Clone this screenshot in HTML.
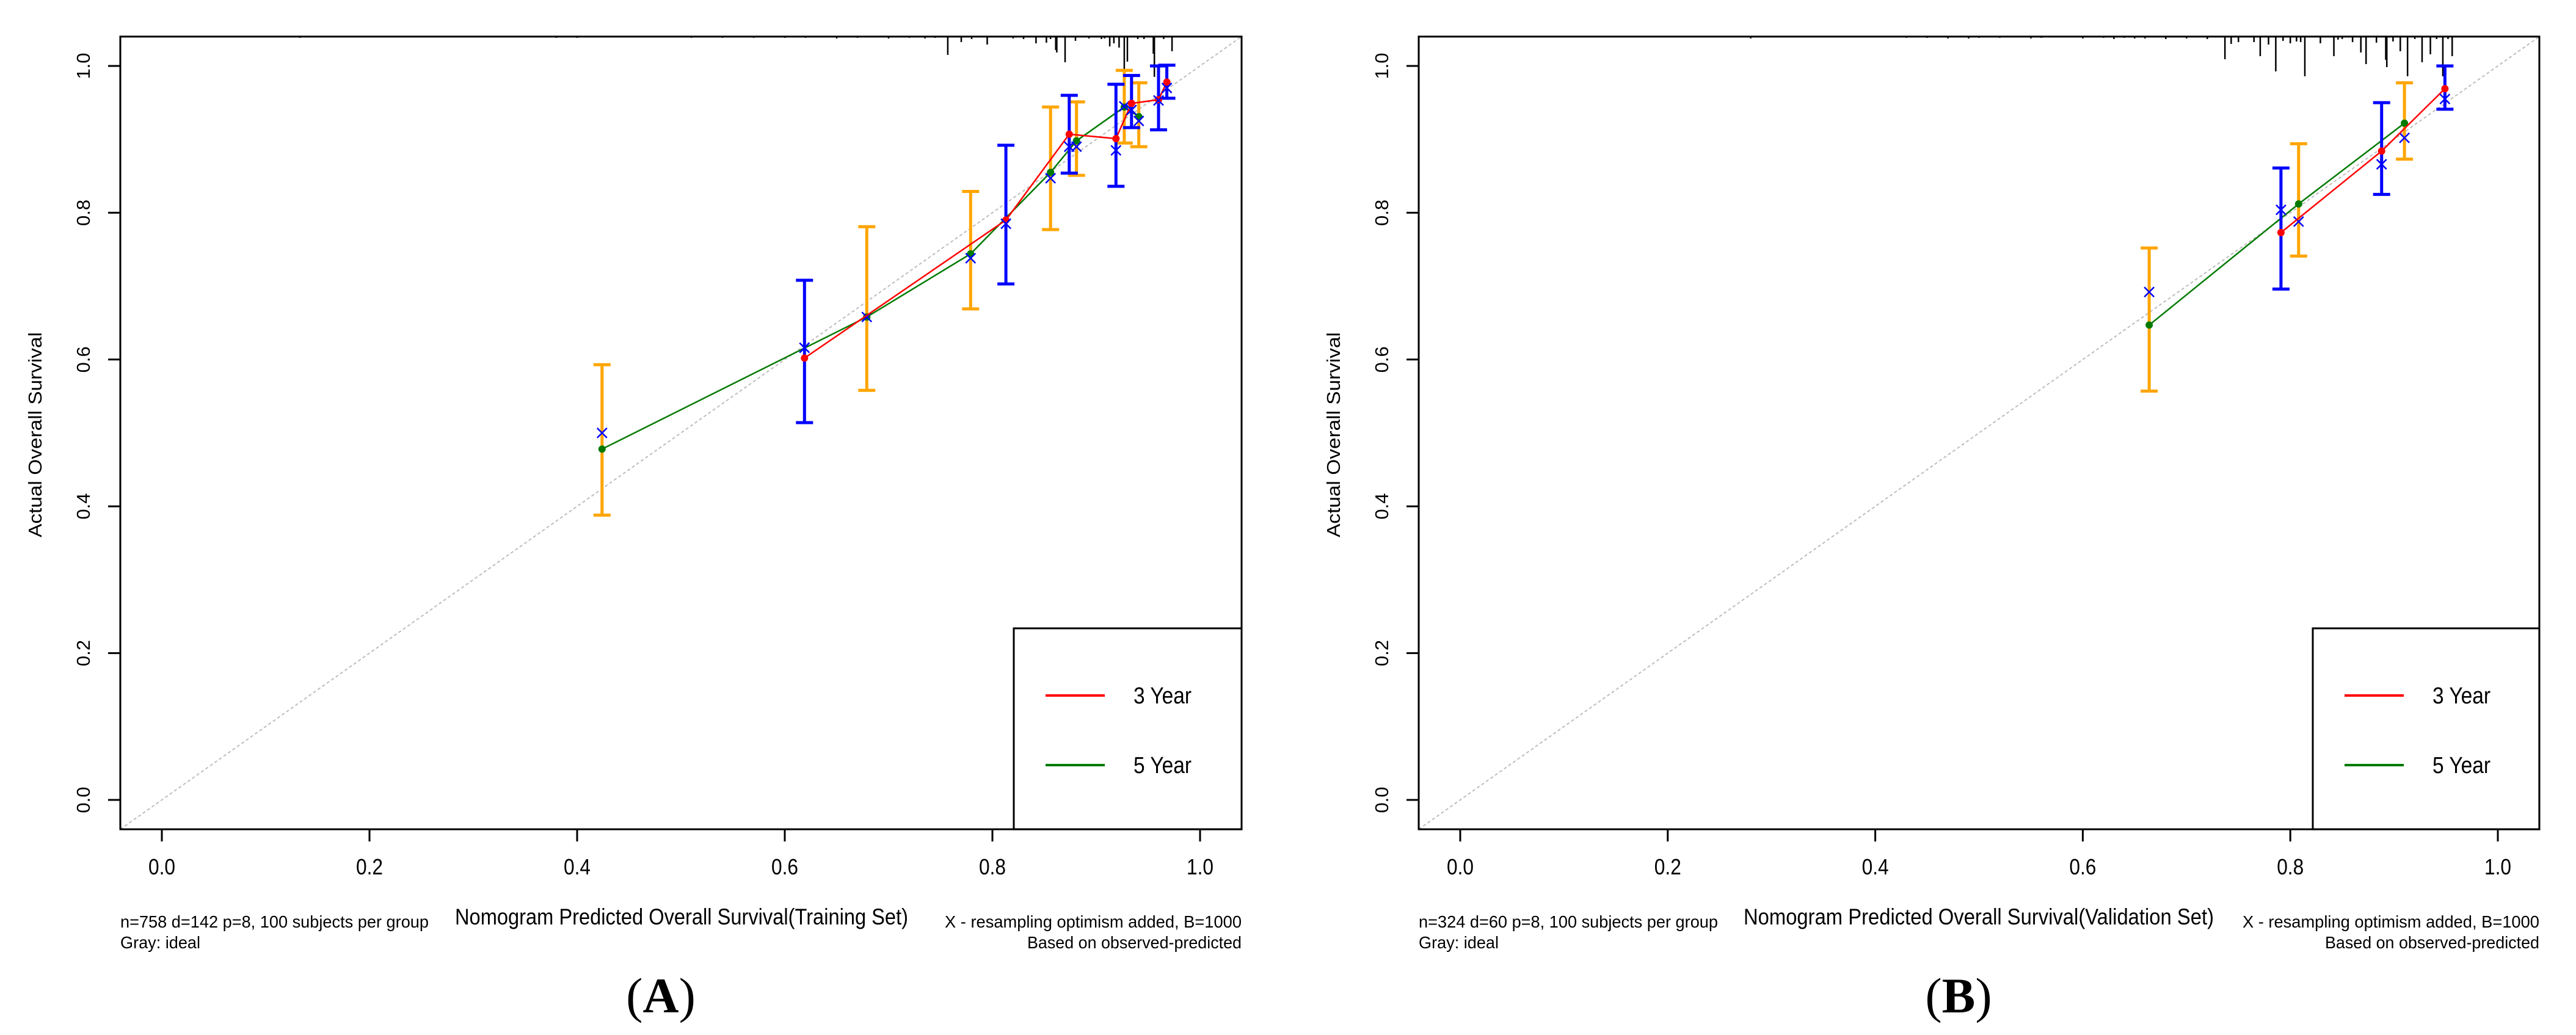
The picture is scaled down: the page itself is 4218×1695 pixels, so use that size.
<!DOCTYPE html>
<html>
<head>
<meta charset="utf-8">
<style>
html,body{margin:0;padding:0;background:#fff;}
svg{display:block;}
text{font-family:"Liberation Sans",sans-serif;fill:#000;}
</style>
</head>
<body>
<svg id="chart" width="4218" height="1695" viewBox="0 0 4218 1695" xmlns="http://www.w3.org/2000/svg"></svg>
<script>
// ---------- Panel A data (Training set) ----------
const aRedPred = [0.619, 0.813, 0.874, 0.919, 0.934, 0.960, 0.968];
const aRedObs  = [0.602, 0.790, 0.907, 0.901, 0.949, 0.954, 0.978];
const aRedLo   = [0.514, 0.703, 0.854, 0.836, 0.916, 0.913, 0.956];
const aRedHi   = [0.708, 0.892, 0.960, 0.975, 0.987, 1.000, 1.001];
const aRedCorr = [0.616, 0.785, 0.890, 0.885, 0.940, 0.953, 0.970];
const aGrnPred = [0.424, 0.679, 0.779, 0.856, 0.881, 0.927, 0.941];
const aGrnObs  = [0.478, 0.658, 0.744, 0.855, 0.898, 0.944, 0.931];
const aGrnLo   = [0.388, 0.558, 0.669, 0.777, 0.851, 0.895, 0.890];
const aGrnHi   = [0.593, 0.781, 0.829, 0.944, 0.951, 0.994, 0.977];
const aGrnCorr = [0.500, 0.658, 0.738, 0.847, 0.890, 0.945, 0.925];
const aRugX    = [0.133,0.38,0.40,0.51,0.54,0.57,0.60,0.62,0.65,0.67,0.70,0.72,0.735,0.745,0.757,0.77,0.78,0.795,0.82,0.83,0.842,0.852,0.856,0.861,0.862,0.870,0.880,0.893,0.905,0.908,0.913,0.917,0.922,0.927,0.930,0.940,0.946,0.955,0.956,0.965,0.973];
const aRugLen  = [2,2,2,2,2,2,2,2,3,2,3,2,3,2,30,9,4,13,3,4,11,10,4,22,26,42,7,3,4,3,16,11,18,70,41,4,4,28,66,4,24];
// ---------- Panel B data (Validation set) ----------
const bRedPred = [0.791, 0.888, 0.949];
const bRedObs  = [0.773, 0.884, 0.969];
const bRedLo   = [0.696, 0.825, 0.941];
const bRedHi   = [0.861, 0.950, 1.000];
const bRedCorr = [0.804, 0.866, 0.955];
const bGrnPred = [0.664, 0.808, 0.910];
const bGrnObs  = [0.647, 0.812, 0.922];
const bGrnLo   = [0.557, 0.741, 0.873];
const bGrnHi   = [0.752, 0.894, 0.977];
const bGrnCorr = [0.692, 0.788, 0.902];
const bRugX    = [0.28,0.43,0.45,0.47,0.49,0.50,0.52,0.55,0.56,0.60,0.62,0.63,0.64,0.65,0.66,0.68,0.70,0.72,0.737,0.743,0.750,0.765,0.771,0.779,0.786,0.793,0.800,0.806,0.810,0.814,0.829,0.842,0.846,0.850,0.860,0.868,0.873,0.883,0.892,0.893,0.899,0.906,0.913,0.920,0.927,0.935,0.941,0.947,0.952,0.956];
const bRugLen  = [3,2,2,3,3,2,2,3,2,3,2,4,2,3,3,4,3,4,37,12,9,9,32,13,57,7,11,8,9,65,11,32,5,4,9,26,45,10,38,50,8,24,65,4,42,29,4,65,4,32];
const xTicks = [0, 0.2, 0.4, 0.6, 0.8, 1.0];
const yTicks = [0, 0.2, 0.4, 0.6, 0.8, 1.0];
const xTickLabels = ["0.0","0.2","0.4","0.6","0.8","1.0"];
const yTickLabels = ["0.0","0.2","0.4","0.6","0.8","1.0"];
const legendLabels = ["3 Year", "5 Year"];

const NS = "http://www.w3.org/2000/svg";
const svg = document.getElementById("chart");
function mk(tag, attrs, parent){
  const e = document.createElementNS(NS, tag);
  for (const k in attrs) e.setAttribute(k, attrs[k]);
  (parent || svg).appendChild(e);
  return e;
}

function drawPanel(p){
  const g = mk("g", {});
  
  
  const x0 = p.x0, x1 = p.x1;
  const yZ = 1310, yO = 108;
  const sx = v => x0 + (x1 - x0) * v;
  const sy = v => yZ + (yO - yZ) * v;
  const L = sx(-0.04), R = sx(1.04), T = sy(1.04), B = sy(-0.04);

  const cid = "clip-" + p.name;
  const cp = mk("clipPath", {id: cid}, g);
  mk("rect", {x: L, y: T, width: R - L, height: B - T}, cp);

  const ideal = mk("line", {x1: sx(-0.04), y1: sy(-0.04), x2: sx(1.04), y2: sy(1.04), stroke: "#bdbdbd", "stroke-width": 2, "stroke-dasharray": "5,4", "clip-path": "url(#" + cid + ")"}, g);
  
  

  const rugG = mk("g", {}, g);
  
  
  p.rugX.forEach((v, i) => {
    const r = mk("line", {x1: sx(v), x2: sx(v), y1: T, y2: T + p.rugLen[i], stroke: "#000", "stroke-width": 2.5}, rugG);
    
    
  });

  function series(pred, obs, lo, hi, corr, lineCol, barCol, ptCol, nm){
    const sg = mk("g", {}, g);
    
    
    const pts = pred.map((v, i) => sx(v) + "," + sy(obs[i])).join(" ");
    const pl = mk("polyline", {points: pts, fill: "none", stroke: lineCol, "stroke-width": 2.5}, sg);
    
    
    pred.forEach((v, i) => {
      const x = sx(v);
      const eb = mk("path", {d: `M${x},${sy(lo[i])}V${sy(hi[i])}M${x-14},${sy(lo[i])}H${x+14}M${x-14},${sy(hi[i])}H${x+14}`, stroke: barCol, "stroke-width": 5, fill: "none"}, sg);
      
      
    });
    pred.forEach((v, i) => {
      const c = mk("circle", {cx: sx(v), cy: sy(obs[i]), r: 6, fill: ptCol}, sg);
      
      
    });
    pred.forEach((v, i) => {
      const x = sx(v), y = sy(corr[i]), d = 8;
      const xm = mk("path", {d: `M${x-d},${y-d}L${x+d},${y+d}M${x-d},${y+d}L${x+d},${y-d}`, stroke: "#0000ff", "stroke-width": 2.5}, sg);
      
      
    });
  }
  series(p.gPred, p.gObs, p.gLo, p.gHi, p.gCorr, "#007a00", "#ffa500", "#007a00", "five-year-series");
  series(p.rPred, p.rObs, p.rLo, p.rHi, p.rCorr, "#ff0000", "#0000ff", "#ff0000", "three-year-series");

  const lg = mk("g", {}, g);
  
  
  const lx = p.legX;
  mk("rect", {x: lx, y: 1029, width: R - lx, height: B - 1029, fill: "#fff", stroke: "#000", "stroke-width": 3}, lg);
  const cols = ["#ff0000", "#007a00"];
  const lys = [1139, 1253];
  legendLabels.forEach((t, i) => {
    const e = mk("g", {}, lg);
    
    
    mk("line", {x1: lx + 52, x2: lx + 149, y1: lys[i], y2: lys[i], stroke: cols[i], "stroke-width": 4}, e);
    const tx = mk("text", {x: lx + 196, y: lys[i] + 13, "font-size": 38, textLength: 95, lengthAdjust: "spacingAndGlyphs"}, e);
    tx.textContent = t;
  });

  const bx = mk("rect", {x: L, y: T, width: R - L, height: B - T, fill: "none", stroke: "#000", "stroke-width": 3}, g);
  
  

  const xa = mk("g", {}, g);
  
  
  xTicks.forEach((v, i) => {
    mk("line", {x1: sx(v), x2: sx(v), y1: B, y2: B + 20, stroke: "#000", "stroke-width": 3}, xa);
    const t = mk("text", {x: sx(v), y: 1432, "font-size": 36, "text-anchor": "middle", textLength: 44, lengthAdjust: "spacingAndGlyphs"}, xa);
    t.textContent = xTickLabels[i];
  });
  const ya = mk("g", {}, g);
  
  
  yTicks.forEach((v, i) => {
    mk("line", {x1: L - 20, x2: L, y1: sy(v), y2: sy(v), stroke: "#000", "stroke-width": 3}, ya);
    const tx = L - 50;
    const t = mk("text", {x: tx, y: sy(v), "font-size": 31, "text-anchor": "middle", transform: `rotate(-90 ${tx} ${sy(v)})`, fill: "#222"}, ya);
    t.textContent = yTickLabels[i];
  });
  const yt = mk("text", {x: L - 129, y: 712, "font-size": 31, "text-anchor": "middle", transform: `rotate(-90 ${L - 129} 712)`, textLength: 336, lengthAdjust: "spacingAndGlyphs", fill: "#222"}, g);
  yt.textContent = "Actual Overall Survival";
  
  

  const xt = mk("text", {x: p.titleX, y: 1514, "font-size": 37, "text-anchor": "middle", textLength: p.titleLen, lengthAdjust: "spacingAndGlyphs"}, g);
  xt.textContent = p.title;
  
  

  const n1 = mk("text", {x: L, y: 1519, "font-size": 28, textLength: p.noteLen, lengthAdjust: "spacingAndGlyphs"}, g);
  n1.textContent = p.note;
  
  
  const n2 = mk("text", {x: L, y: 1553, "font-size": 28, textLength: 131, lengthAdjust: "spacingAndGlyphs"}, g);
  n2.textContent = "Gray: ideal";
  
  
  const n3 = mk("text", {x: R, y: 1519, "font-size": 28, "text-anchor": "end", textLength: 486, lengthAdjust: "spacingAndGlyphs"}, g);
  n3.textContent = "X - resampling optimism added, B=1000";
  
  
  const n4 = mk("text", {x: R, y: 1553, "font-size": 28, "text-anchor": "end", textLength: 351, lengthAdjust: "spacingAndGlyphs"}, g);
  n4.textContent = "Based on observed-predicted";
  
  

  const pl = mk("text", {x: p.labelX, y: 1658, "font-size": 82, "text-anchor": "middle", style: "font-family:'Liberation Serif',serif"}, g);
  pl.innerHTML = '(<tspan font-weight="bold">' + p.letter + '</tspan>)';
  
  
}

drawPanel({name: "panel-a-training", x0: 265, x1: 1965, legX: 1660,
  rPred: aRedPred, rObs: aRedObs, rLo: aRedLo, rHi: aRedHi, rCorr: aRedCorr,
  gPred: aGrnPred, gObs: aGrnObs, gLo: aGrnLo, gHi: aGrnHi, gCorr: aGrnCorr,
  rugX: aRugX, rugLen: aRugLen,
  title: "Nomogram Predicted Overall Survival(Training Set)", titleX: 1116, titleLen: 742,
  note: "n=758 d=142 p=8, 100 subjects per group", noteLen: 505, labelX: 1082, letter: "A"});
drawPanel({name: "panel-b-validation", x0: 2391, x1: 4090, legX: 3787,
  rPred: bRedPred, rObs: bRedObs, rLo: bRedLo, rHi: bRedHi, rCorr: bRedCorr,
  gPred: bGrnPred, gObs: bGrnObs, gLo: bGrnLo, gHi: bGrnHi, gCorr: bGrnCorr,
  rugX: bRugX, rugLen: bRugLen,
  title: "Nomogram Predicted Overall Survival(Validation Set)", titleX: 3240, titleLen: 770,
  note: "n=324 d=60 p=8, 100 subjects per group", noteLen: 490, labelX: 3207, letter: "B"});
</script>
</body>
</html>
